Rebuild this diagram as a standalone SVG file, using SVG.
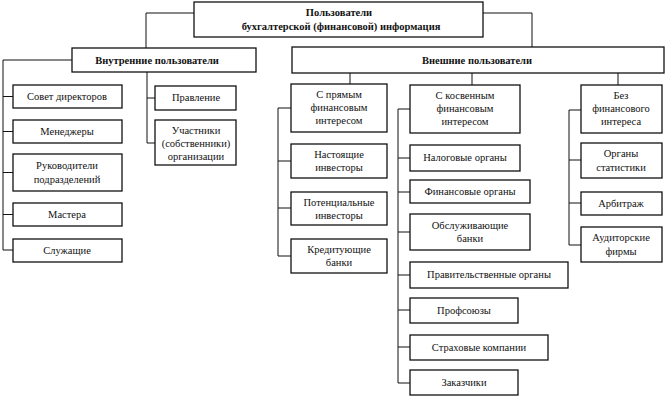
<svg xmlns="http://www.w3.org/2000/svg" width="667" height="397" viewBox="0 0 667 397">
<style>
  .box { fill: #ffffff; stroke: #111111; stroke-width: 1.3; }
  .t { font-family: "Liberation Serif", "Times New Roman", serif; font-size: 10.5px; fill: #111111; text-anchor: middle; }
  .b { font-weight: bold; }
  .conn { fill: none; stroke: #111111; stroke-width: 1; }
</style>
<rect width="667" height="397" fill="#ffffff"/>
<g id="connectors">
  <path class="conn" d="M194,13 H146 V48"/>
  <path class="conn" d="M483,13 H532 V47"/>
  <path class="conn" d="M72,60 H3 V250"/>
  <path class="conn" d="M3,96.5 H13 M3,131.5 H13 M3,172.5 H13 M3,214.5 H13 M3,250 H13"/>
  <path class="conn" d="M147,72 V143 M147,98 H155 M147,143 H155"/>
  <path class="conn" d="M350,73 V84 M472,73 V85 M618,73 V85"/>
  <path class="conn" d="M291,108 H278 V256 M278,161 H291 M278,208 H291 M278,256 H291"/>
  <path class="conn" d="M410,109 H398 V383 M398,158 H410 M398,192 H410 M398,232 H410 M398,275 H410 M398,310 H410 M398,347 H410 M398,383 H410"/>
  <path class="conn" d="M581,110 H569 V245 M569,160 H581 M569,203 H581 M569,245 H581"/>
</g>
<g id="root">
  <rect class="box" x="194" y="2" width="289" height="35"/>
  <text class="t b" x="339" y="16">Пользователи</text>
  <text class="t b" x="341" y="30">бухгалтерской (финансовой)  информация</text>
</g>
<g id="internal">
  <rect class="box" x="72" y="48" width="184" height="24"/>
  <text class="t b" x="157" y="64">Внутренние  пользователи</text>
</g>
<g id="external">
  <rect class="box" x="292" y="47" width="372" height="26"/>
  <text class="t b" x="477" y="64">Внешние  пользователи</text>
</g>
<g id="sovet">
  <rect class="box" x="13" y="85" width="109" height="23"/>
  <text class="t" x="67" y="100">Совет  директоров</text>
</g>
<g id="managers">
  <rect class="box" x="13" y="120" width="109" height="23"/>
  <text class="t" x="67" y="135">Менеджеры</text>
</g>
<g id="heads">
  <rect class="box" x="13" y="154" width="109" height="37"/>
  <text class="t" x="67" y="169">Руководители</text>
  <text class="t" x="67" y="183">подразделений</text>
</g>
<g id="masters">
  <rect class="box" x="13" y="203" width="109" height="23"/>
  <text class="t" x="67" y="218">Мастера</text>
</g>
<g id="employees">
  <rect class="box" x="13" y="239" width="109" height="23"/>
  <text class="t" x="67" y="254">Служащие</text>
</g>
<g id="board">
  <rect class="box" x="155" y="86" width="81" height="24"/>
  <text class="t" x="196" y="101">Правление</text>
</g>
<g id="owners">
  <rect class="box" x="155" y="120" width="81" height="45"/>
  <text class="t" x="196" y="134">Участники</text>
  <text class="t" x="196" y="147">(собственники)</text>
  <text class="t" x="196" y="160">организации</text>
</g>
<g id="direct">
  <rect class="box" x="291" y="84" width="96" height="48"/>
  <text class="t" x="339" y="98">С  прямым</text>
  <text class="t" x="339" y="111">финансовым</text>
  <text class="t" x="339" y="124">интересом</text>
</g>
<g id="investors">
  <rect class="box" x="291" y="144" width="96" height="34"/>
  <text class="t" x="339" y="158">Настоящие</text>
  <text class="t" x="339" y="171">инвесторы</text>
</g>
<g id="potential">
  <rect class="box" x="291" y="192" width="96" height="33"/>
  <text class="t" x="339" y="206">Потенциальные</text>
  <text class="t" x="339" y="219">инвесторы</text>
</g>
<g id="creditors">
  <rect class="box" x="291" y="239" width="96" height="34"/>
  <text class="t" x="339" y="253">Кредитующие</text>
  <text class="t" x="339" y="266">банки</text>
</g>
<g id="indirect">
  <rect class="box" x="410" y="85" width="110" height="48"/>
  <text class="t" x="465" y="99">С  косвенным</text>
  <text class="t" x="465" y="112">финансовым</text>
  <text class="t" x="465" y="125">интересом</text>
</g>
<g id="tax">
  <rect class="box" x="410" y="145" width="110" height="26"/>
  <text class="t" x="465" y="161">Налоговые  органы</text>
</g>
<g id="financial">
  <rect class="box" x="410" y="180" width="120" height="23"/>
  <text class="t" x="470" y="195">Финансовые  органы</text>
</g>
<g id="servbanks">
  <rect class="box" x="410" y="214" width="120" height="36"/>
  <text class="t" x="470" y="229">Обслуживающие</text>
  <text class="t" x="470" y="242">банки</text>
</g>
<g id="gov">
  <rect class="box" x="410" y="262" width="158" height="26"/>
  <text class="t" x="489" y="278">Правительственные   органы</text>
</g>
<g id="unions">
  <rect class="box" x="410" y="298" width="108" height="25"/>
  <text class="t" x="464" y="314">Профсоюзы</text>
</g>
<g id="insurance">
  <rect class="box" x="410" y="335" width="138" height="25"/>
  <text class="t" x="479" y="351">Страховые  компании</text>
</g>
<g id="customers">
  <rect class="box" x="410" y="370" width="108" height="25"/>
  <text class="t" x="464" y="386">Заказчики</text>
</g>
<g id="nointerest">
  <rect class="box" x="581" y="85" width="81" height="48"/>
  <text class="t" x="621" y="99">Без</text>
  <text class="t" x="621" y="112">финансового</text>
  <text class="t" x="621" y="125">интереса</text>
</g>
<g id="stats">
  <rect class="box" x="581" y="143" width="81" height="35"/>
  <text class="t" x="621" y="157">Органы</text>
  <text class="t" x="621" y="171">статистики</text>
</g>
<g id="arbitrage">
  <rect class="box" x="581" y="192" width="81" height="23"/>
  <text class="t" x="621" y="207">Арбитраж</text>
</g>
<g id="auditors">
  <rect class="box" x="581" y="227" width="81" height="35"/>
  <text class="t" x="621" y="241">Аудиторские</text>
  <text class="t" x="621" y="255">фирмы</text>
</g>
</svg>
